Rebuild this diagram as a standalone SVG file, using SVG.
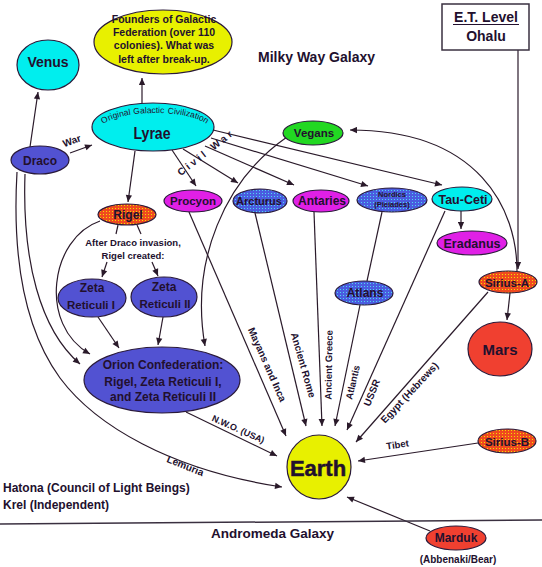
<svg xmlns="http://www.w3.org/2000/svg" width="542" height="567" viewBox="0 0 542 567">
<style>
.n{stroke:#2a1a3a;stroke-width:1.2}
.t{font-family:"Liberation Sans",Arial,sans-serif;font-weight:bold;fill:#22102e;text-anchor:middle}
.s{font-family:"Liberation Sans",Arial,sans-serif;font-weight:bold;fill:#22102e}
.ar{font-family:"Liberation Sans",Arial,sans-serif;font-size:8.5px;fill:#22102e}
.c{stroke:#2a1a2a;stroke-width:1.2;fill:none}
.a{marker-end:url(#ah)}
.cy{fill:#00eeee}.ye{fill:#e8f000}.sb{fill:#5252d2}.mg{fill:#e020e6}.gr{fill:#22d822}.rd{fill:#f04030}
.or{fill:url(#po)}.bl{fill:url(#pb)}
</style>
<defs>
<marker id="ah" viewBox="0 0 10 10" refX="10" refY="5" markerWidth="9" markerHeight="7" orient="auto" markerUnits="userSpaceOnUse"><path d="M0,0.5 L10,5 L0,9.5 z" fill="#2a1a2a"/></marker>
<pattern id="po" width="3" height="3" patternUnits="userSpaceOnUse"><rect width="3" height="3" fill="#f04a1e"/><rect x="1" y="1" width="1" height="1" fill="#f2e000"/></pattern>
<pattern id="pb" width="3" height="3" patternUnits="userSpaceOnUse"><rect width="3" height="3" fill="#4a5ce0"/><rect x="1" y="1" width="1" height="1" fill="#50d8f0"/></pattern>
<path id="arc" d="M100,130 A55,17 0 0 1 210,130"/>
</defs>
<rect width="542" height="567" fill="#ffffff"/>

<g id="connectors">
<path class="c a" d="M142,103 L142,78"/>
<path class="c a" d="M30,147 L38,92"/>
<path class="c a" d="M70,153 L92,145"/>
<path class="c a" d="M135,151 L128,202"/>
<path class="c a" d="M172,150 L196,186"/>
<path class="c a" d="M183,149 L238,183"/>
<path class="c a" d="M205,146 L294,185"/>
<path class="c a" d="M211,138 L368,186"/>
<path class="c a" d="M213,130 L442,185"/>
<path class="c a" d="M287,137 C225,180 190,260 205,346"/>
<path class="c a" d="M517,271 C517,210 480,130 350,130"/>
<path class="c a" d="M518,50 L518,269"/>
<path class="c a" d="M461,211 L461,229"/>
<path class="c a" d="M510,293 L507,320"/>
<path class="c" d="M118,225 L116,234"/>
<path class="c a" d="M107,262 L102,277"/>
<path class="c" d="M137,225 L141,234"/>
<path class="c a" d="M152,262 L158,276"/>
<path class="c a" d="M98,317 L119,348"/>
<path class="c a" d="M163,317 L158,345"/>
<path class="c a" d="M25,174 C22,260 40,330 80,364"/>
<path class="c a" d="M100,221 C50,238 38,325 90,354"/>
<path class="c a" d="M17,172 C12,260 25,330 60,378 C95,425 170,470 282,487"/>
<path class="c a" d="M186,412 L277,456"/>
<path class="c a" d="M189,212 L286,436"/>
<path class="c a" d="M255,213 L306,426"/>
<path class="c a" d="M314,212 L322,426"/>
<path class="c" d="M382,212 L367,281"/>
<path class="c a" d="M360,305 L335,426"/>
<path class="c a" d="M445,211 L347,430"/>
<path class="c a" d="M488,292 L356,442"/>
<path class="c a" d="M478,443 L358,461"/>
<path class="c a" d="M430,531 L347,497"/>
<text class="t" font-size="10" transform="translate(73,144) rotate(-20)">War</text>
<text class="t" font-size="10" letter-spacing="3" transform="translate(208,155) rotate(-38)">Civil War</text>
<text class="t" font-size="9.5" x="133" y="245.5">After Draco invasion,</text>
<text class="t" font-size="9.5" x="133" y="258.5">Rigel created:</text>
<text class="t" font-size="10" transform="translate(264,366) rotate(66)">Mayans and Inca</text>
<text class="t" font-size="10" transform="translate(300,366) rotate(74)">Ancient Rome</text>
<text class="t" font-size="9.5" transform="translate(332,365) rotate(-89)">Ancient Greece</text>
<text class="t" font-size="9.5" transform="translate(356,383) rotate(-77)">Atlantis</text>
<text class="t" font-size="10" transform="translate(375,394) rotate(-68)">USSR</text>
<text class="t" font-size="10" transform="translate(412,395) rotate(-47)">Egypt (Hebrews)</text>
<text class="t" font-size="9.5" transform="translate(398,448) rotate(-8)">Tibet</text>
<text class="t" font-size="9" transform="translate(237,432) rotate(24)">N.W.O. (USA)</text>
<text class="t" font-size="10" transform="translate(184,469) rotate(22)">Lemuria</text>
</g>

<g id="venus"><ellipse class="n cy" cx="48" cy="65" rx="31" ry="25"/><text class="t" x="48" y="67" font-size="14">Venus</text></g>
<g id="founders"><ellipse class="n ye" cx="163" cy="42" rx="69" ry="32"/>
<text class="t" font-size="10.5" font-weight="normal" x="164" y="23">Founders of Galactic</text>
<text class="t" font-size="10.5" font-weight="normal" x="164" y="36">Federation (over 110</text>
<text class="t" font-size="10.5" font-weight="normal" x="164" y="49">colonies).  What was</text>
<text class="t" font-size="10.5" font-weight="normal" x="164" y="63">left after break-up.</text></g>
<g id="lyrae"><ellipse class="n cy" cx="153" cy="127" rx="61" ry="24"/>
<text class="ar"><textPath href="#arc" startOffset="7">Original</textPath></text>
<text class="ar"><textPath href="#arc" startOffset="39">Galactic</textPath></text>
<text class="ar"><textPath href="#arc" startOffset="73">Civilization</textPath></text>
<text class="t" x="152" y="139" font-size="16" textLength="37" lengthAdjust="spacingAndGlyphs">Lyrae</text></g>
<g id="draco"><ellipse class="n sb" cx="40" cy="160" rx="29" ry="14"/><text class="t" x="40" y="164.5" font-size="12">Draco</text></g>
<g id="vegans"><ellipse class="n gr" cx="313" cy="133" rx="30" ry="12"/><text class="t" x="314" y="137" font-size="11.5">Vegans</text></g>
<g id="rigel"><ellipse class="n or" cx="127" cy="214.5" rx="29" ry="10.5"/><text class="t" x="128" y="219" font-size="12">Rigel</text></g>
<g id="procyon"><ellipse class="n mg" cx="193" cy="201" rx="29" ry="11"/><text class="t" x="193" y="205" font-size="11.5">Procyon</text></g>
<g id="arcturus"><ellipse class="n bl" cx="260" cy="201" rx="27" ry="12"/><text class="t" x="259" y="205" font-size="11">Arcturus</text></g>
<g id="antaries"><ellipse class="n mg" cx="321" cy="201" rx="28" ry="11"/><text class="t" x="322" y="205" font-size="12">Antaries</text></g>
<g id="nordics"><ellipse class="n bl" cx="392" cy="200" rx="35" ry="12"/>
<text class="t" x="392" y="197" font-size="7.5" font-weight="normal">Nordics</text>
<text class="t" x="392" y="207" font-size="7.5" font-weight="normal">(Pleiades)</text></g>
<g id="tauceti"><ellipse class="n cy" cx="462" cy="199" rx="30" ry="12"/><text class="t" x="463" y="203.5" font-size="12.5">Tau-Ceti</text></g>
<g id="eradanus"><ellipse class="n mg" cx="472" cy="243" rx="35" ry="12"/><text class="t" x="472" y="247.5" font-size="12.5">Eradanus</text></g>
<g id="atlans"><ellipse class="n bl" cx="364" cy="293" rx="29" ry="12"/><text class="t" x="365" y="297" font-size="12">Atlans</text></g>
<g id="siriusa"><ellipse class="n or" cx="508" cy="282" rx="29" ry="11"/><text class="t" x="507" y="286.5" font-size="11.5">Sirius-A</text></g>
<g id="mars"><ellipse class="n rd" cx="500" cy="349" rx="32" ry="27"/><text class="t" x="500" y="355" font-size="15">Mars</text></g>
<g id="zeta1"><ellipse class="n sb" cx="92" cy="298" rx="34" ry="19"/>
<text class="t" x="92" y="292" font-size="12">Zeta</text><text class="t" x="91" y="309" font-size="11.5">Reticuli I</text></g>
<g id="zeta2"><ellipse class="n sb" cx="164" cy="297" rx="33" ry="20"/>
<text class="t" x="164" y="291" font-size="12">Zeta</text><text class="t" x="165" y="308" font-size="11.5">Reticuli II</text></g>
<g id="orion"><ellipse class="n sb" cx="162" cy="380" rx="78" ry="33"/>
<text class="t" x="163" y="369" font-size="12">Orion Confederation:</text>
<text class="t" x="163" y="386" font-size="12">Rigel, Zeta Reticuli I,</text>
<text class="t" x="163" y="401" font-size="12">and Zeta Reticuli II</text></g>
<g id="earth"><circle class="n ye" cx="319" cy="467" r="32"/><text class="t" x="318" y="476" font-size="22" font-weight="normal" stroke="#22102e" stroke-width="0.5">Earth</text></g>
<g id="siriusb"><ellipse class="n or" cx="507" cy="441" rx="29" ry="12"/><text class="t" x="507" y="445.5" font-size="11.5">Sirius-B</text></g>
<g id="marduk"><ellipse class="n rd" cx="456" cy="538" rx="30" ry="12"/><text class="t" x="456" y="542" font-size="12">Marduk</text>
<text class="t" x="458" y="563" font-size="10">(Abbenaki/Bear)</text></g>
<g id="etlevel"><rect x="442" y="4" width="87" height="46" fill="#ffffff" stroke="#3a3040" stroke-width="1.5"/>
<text class="t" x="486" y="22" font-size="14">E.T. Level</text>
<line x1="453" y1="24.5" x2="519" y2="24.5" stroke="#22102e" stroke-width="1"/>
<text class="t" x="486" y="41" font-size="14">Ohalu</text></g>

<g id="labels">
<text class="s" x="258" y="62" font-size="14">Milky Way Galaxy</text>
<text class="s" x="211" y="538" font-size="13.5">Andromeda Galaxy</text>
<text class="s" x="3" y="492" font-size="12">Hatona (Council of Light Beings)</text>
<text class="s" x="3" y="509" font-size="12">Krel (Independent)</text>
<path d="M0,524 L542,520" stroke="#3a3040" stroke-width="1.5" fill="none"/>
</g>
</svg>
